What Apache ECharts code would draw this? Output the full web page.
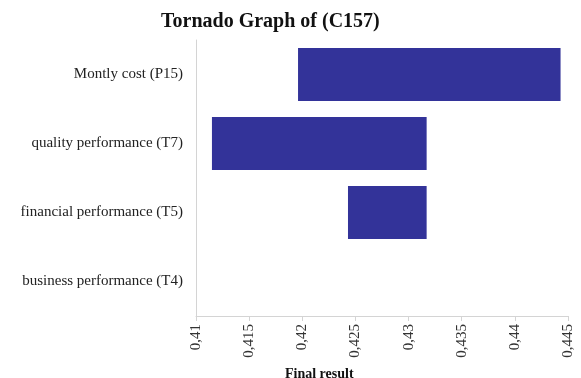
<!DOCTYPE html>
<html>
<head>
<meta charset="utf-8">
<script src="https://cdn.jsdelivr.net/npm/echarts@6/dist/echarts.min.js"></script>
<style>
  html, body { margin: 0; padding: 0; background: #fff; }
  #chart { width: 581px; height: 378px; }
</style>
</head>
<body>
<div id="chart"></div>
<script>
// categories, top to bottom
const categories = [
  "Montly cost (P15)",
  "quality performance (T7)",
  "financial performance (T5)",
  "business performance (T4)"
];
// low / high ends of each bar
const lowValues = [0.4196, 0.4115, 0.4243, 0.4317];
const highValues = [0.4443, 0.4317, 0.4317, 0.4317];
const xTicks = [0.41, 0.415, 0.42, 0.425, 0.43, 0.435, 0.44, 0.445];

const serif = "Liberation Serif, Times New Roman, serif";
const chart = echarts.init(document.getElementById("chart"));

const options = {
  animation: false,
  title: [
    {
      text: "Tornado Graph of (C157)",
      left: 156,
      top: 7,
      textStyle: { fontFamily: serif, fontSize: 20, fontWeight: "bold", color: "#111" }
    },
    {
      text: "Final result",
      left: 280,
      top: 362,
      textStyle: { fontFamily: serif, fontSize: 14, fontWeight: "bold", color: "#111" }
    }
  ],
  grid: { left: 196, right: 13, top: 40, bottom: 62 },
  xAxis: {
    type: "value",
    min: xTicks[0],
    max: xTicks[xTicks.length - 1],
    interval: 0.005,
    axisLine: { show: true, lineStyle: { color: "#d4d4d4", width: 1 } },
    axisTick: { show: true, length: 5, lineStyle: { color: "#d4d4d4" } },
    splitLine: { show: false },
    axisLabel: {
      rotate: 90,
      margin: 8,
      fontFamily: serif,
      fontSize: 15,
      color: "#333",
      formatter: (v) => String(parseFloat(v.toFixed(3))).replace(".", ",")
    }
  },
  yAxis: {
    type: "category",
    inverse: true,
    data: categories,
    axisLine: { show: true, lineStyle: { color: "#d4d4d4", width: 1 } },
    axisTick: { show: false },
    axisLabel: {
      margin: 13,
      fontFamily: serif,
      fontSize: 15,
      color: "#222"
    }
  },
  series: [
    {
      name: "base",
      type: "bar",
      stack: "t",
      silent: true,
      itemStyle: { color: "transparent" },
      barWidth: "77%",
      data: lowValues
    },
    {
      name: "range",
      type: "bar",
      stack: "t",
      barWidth: "77%",
      itemStyle: { color: "#333399" },
      data: highValues.map((h, i) => h - lowValues[i])
    }
  ]
};

chart.setOption(options);
</script>
</body>
</html>
